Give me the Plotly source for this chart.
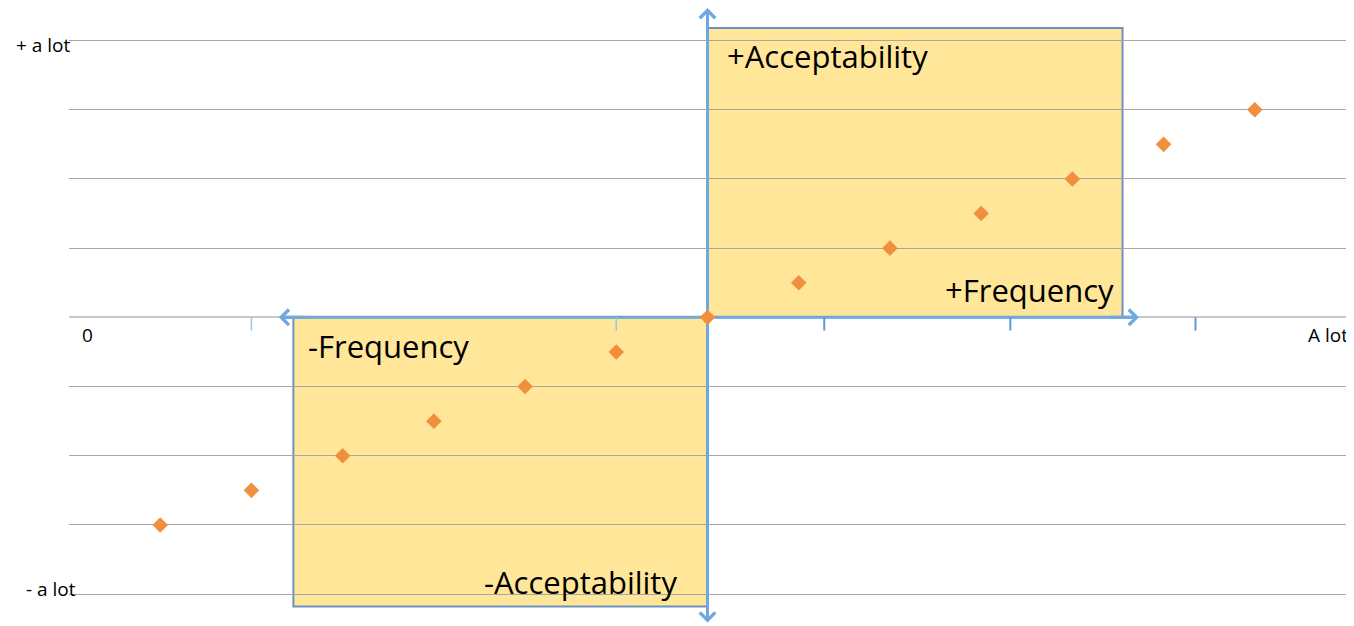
import plotly.graph_objects as go

# ---- data ----
x_vals = [1, 2, 3, 4, 5, 6, 7, 8, 9, 10, 11, 12, 13]
y_vals = [-3, -2.5, -2, -1.5, -1, -0.5, 0, 0.5, 1, 1.5, 2, 2.5, 3]
tick_marks_light = [2, 6]
tick_marks_dark = [8.28, 10.32, 12.35]
y_label_top = "+ a lot"
y_label_bottom = "- a lot"
x_label_left = "0"
x_label_right = "A lot"
quadrant_labels = ["+Acceptability", "+Frequency", "-Frequency", "-Acceptability"]

FONT = "Open Sans"
ARROW_C = "#6FA8DC"
BOX_LINE = "#6C91C2"
BOX_FILL = "#FFE699"

fig = go.Figure()

# tick marks on the horizontal axis
for xs, col, w in [(tick_marks_light, "#9DC3E6", 1.5), (tick_marks_dark, "#5B9BD5", 2)]:
    tx, ty = [], []
    for v in xs:
        tx += [v, v, None]
        ty += [0, -0.19, None]
    fig.add_trace(go.Scatter(x=tx, y=ty, mode="lines", line=dict(color=col, width=w),
                             hoverinfo="skip", showlegend=False))

fig.add_trace(go.Scatter(
    x=x_vals, y=y_vals, mode="markers",
    marker=dict(symbol="diamond", size=12, color="#F0903F", line=dict(width=0)),
    showlegend=False,
))

shapes = [
    dict(type="rect", xref="x", yref="y", x0=7, x1=11.55, y0=0, y1=4.18,
         fillcolor=BOX_FILL, line=dict(color=BOX_LINE, width=2), layer="below"),
    dict(type="rect", xref="x", yref="y", x0=2.46, x1=7, y0=-4.18, y1=0,
         fillcolor=BOX_FILL, line=dict(color=BOX_LINE, width=2), layer="below"),
    dict(type="line", xref="x", yref="y", x0=7, x1=7, y0=-4.38, y1=4.44,
         line=dict(color=ARROW_C, width=3), layer="between"),
    dict(type="line", xref="x", yref="y", x0=2.33, x1=11.70, y0=0, y1=0,
         line=dict(color=ARROW_C, width=3), layer="between"),
]

annotations = []
# arrow heads
for (tx, ty, ax, ay) in [(7, 4.47, 7, 4.2), (7, -4.41, 7, -4.1),
                         (2.30, 0, 2.6, 0), (11.73, 0, 11.4, 0)]:
    annotations.append(dict(x=tx, y=ty, ax=ax, ay=ay, xref="x", yref="y",
                            axref="x", ayref="y", text="", showarrow=True,
                            arrowhead=4, arrowsize=1, arrowwidth=3,
                            arrowcolor=ARROW_C, standoff=0, startstandoff=0))

small = dict(family=FONT, size=19, color="#000000")
big = dict(family=FONT, size=31, color="#000000")
annotations += [
    dict(text=y_label_top, xref="paper", yref="y", x=0, y=3.93, xanchor="right",
         yanchor="middle", xshift=4, showarrow=False, font=small),
    dict(text=y_label_bottom, xref="paper", yref="y", x=0, y=-3.92, xanchor="right",
         yanchor="middle", xshift=9, showarrow=False, font=small),
    dict(text=x_label_left, xref="x", yref="y", x=0.2, y=-0.26, xanchor="center",
         yanchor="middle", showarrow=False, font=small),
    dict(text=x_label_right, xref="paper", yref="y", x=1, y=-0.26, xanchor="right",
         yanchor="middle", xshift=4, showarrow=False, font=small),
    dict(text=quadrant_labels[0], xref="x", yref="y", x=7.19, y=3.78, xanchor="left",
         yanchor="middle", showarrow=False, font=big),
    dict(text=quadrant_labels[1], xref="x", yref="y", x=11.48, y=0.40, xanchor="right",
         yanchor="middle", showarrow=False, font=big),
    dict(text=quadrant_labels[2], xref="x", yref="y", x=2.6, y=-0.41, xanchor="left",
         yanchor="middle", showarrow=False, font=big),
    dict(text=quadrant_labels[3], xref="x", yref="y", x=6.69, y=-3.83, xanchor="right",
         yanchor="middle", showarrow=False, font=big),
]

# page body has an 8px default margin, so the figure is sized/placed to compensate
fig.update_layout(
    width=1346, height=618,
    margin=dict(l=61, r=8, t=0, b=0),
    paper_bgcolor="white", plot_bgcolor="white",
    shapes=shapes, annotations=annotations,
    showlegend=False,
    font=dict(family=FONT),
    xaxis=dict(range=[0, 14], showgrid=False, zeroline=False, showticklabels=False,
               showline=False, ticks="", fixedrange=True),
    yaxis=dict(range=[-4.46, 4.47], showgrid=True, gridcolor="#A6A6A6", gridwidth=1,
               tick0=0, dtick=1, zeroline=True, zerolinecolor="#C8C8C8", zerolinewidth=2,
               showticklabels=False, ticks="", showline=False, fixedrange=True),
)

fig.write_html("out.html")
